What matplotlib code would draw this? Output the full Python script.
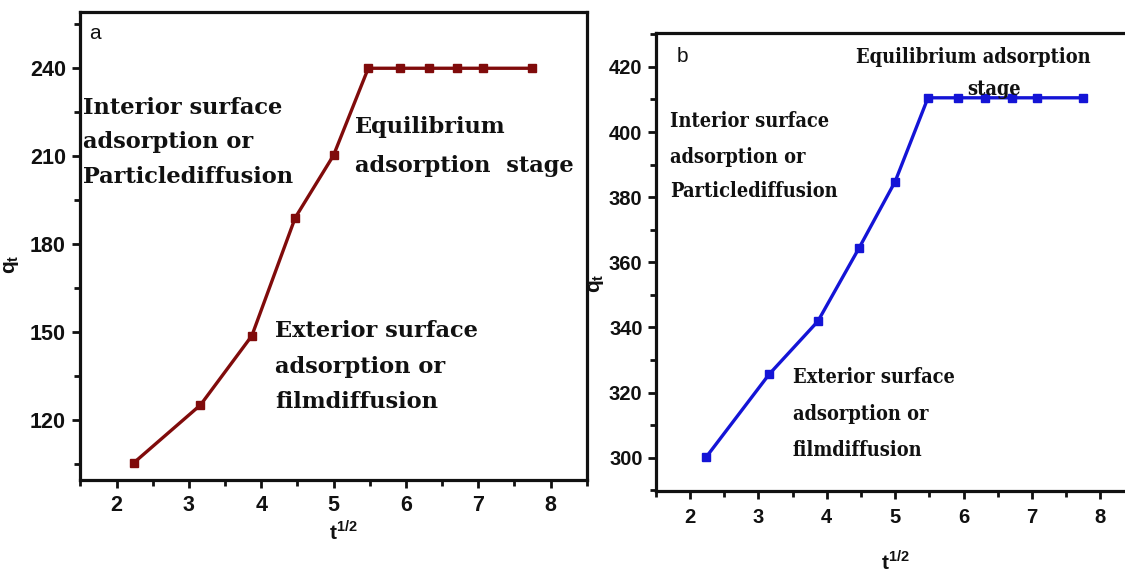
import numpy as np
import matplotlib
matplotlib.use("Agg")
import matplotlib.pyplot as plt
from matplotlib.ticker import MultipleLocator
from matplotlib import font_manager

# ---- data ----
sqrt_t = [2.24, 3.16, 3.87, 4.47, 5.00, 5.48, 5.92, 6.32, 6.71, 7.07, 7.75]
qt_a = [105.4, 125.1, 148.7, 189.0, 210.3, 240.0, 240.0, 240.0, 240.0, 240.0, 240.0]
qt_b = [300.3, 325.7, 341.9, 364.3, 384.8, 410.5, 410.5, 410.5, 410.5, 410.5, 410.5]

x_ticks = [2, 3, 4, 5, 6, 7, 8]
y_ticks_a = [120, 150, 180, 210, 240]
y_ticks_b = [300, 320, 340, 360, 380, 400, 420]

color_a = "#800b0b"
color_b = "#1414d6"
ink = "#111111"

plt.rcParams["font.family"] = ["Liberation Sans", "DejaVu Sans"]
plt.rcParams["mathtext.fontset"] = "custom"
plt.rcParams["mathtext.bf"] = "Liberation Sans:bold"
plt.rcParams["mathtext.rm"] = "Liberation Sans"

fig = plt.figure(figsize=(11.25, 5.73), dpi=100)
W, H = 1125.0, 573.0


def axes_px(left, top, right, bottom):
    return fig.add_axes([left / W, 1 - bottom / H, (right - left) / W, (bottom - top) / H])


ax_a = axes_px(80.4, 11.7, 586.7, 480.0)
ax_b = axes_px(655.8, 33.3, 1134.5, 491.0)


def style(ax, ylim, yticks, yminor, xpad, ypad, labelsize):
    ax.set_xlim(1.5, 8.5)
    ax.set_ylim(*ylim)
    ax.set_xticks(x_ticks)
    ax.set_yticks(yticks)
    ax.xaxis.set_minor_locator(MultipleLocator(0.5))
    ax.yaxis.set_minor_locator(MultipleLocator(yminor))
    for s in ax.spines.values():
        s.set_linewidth(2.3)
        s.set_color(ink)
    ax.tick_params(which="major", direction="out", length=6, width=2.0, color=ink,
                   labelsize=labelsize, labelcolor=ink)
    ax.tick_params(which="minor", direction="out", length=4, width=2.0, color=ink)
    ax.tick_params(axis="x", which="major", pad=xpad)
    ax.tick_params(axis="y", which="major", pad=ypad)
    for lab in ax.get_xticklabels() + ax.get_yticklabels():
        lab.set_fontweight("bold")


# bold serif for the annotations; the right panel uses a condensed cut when present
serif = dict(family=["DejaVu Serif"], fontweight="bold", color=ink, va="baseline", ha="left")
cond_file = font_manager.findfont(
    font_manager.FontProperties(family="DejaVu Serif", weight="bold", stretch="condensed"))
has_condensed = "Condensed" in cond_file
serif_b = dict(serif)
if has_condensed:
    serif_b["fontstretch"] = "condensed"
fs_a = 16.2
fs_b = 14.3 if has_condensed else 13.2

# ---- panel a ----
ax_a.plot(sqrt_t, qt_a, color=color_a, lw=2.4, marker="s", ms=5.5,
          mfc=color_a, mec=color_a)
style(ax_a, (99.5, 259.3), y_ticks_a, 15, 5, 4.5, 15.5)
ax_a.set_xlabel(r"$\mathbf{t}^{\mathbf{1/2}}$", fontsize=15, color=ink)
ax_a.xaxis.set_label_coords(0.519, -0.085)
ax_a.set_ylabel(r"$\mathbf{q}_{\mathbf{t}}$", fontsize=15, color=ink)
ax_a.yaxis.set_label_coords(-0.117, 0.46)

ax_a.text(0.0166, 0.954, "a", transform=ax_a.transAxes, fontsize=15,
          color=ink, va="center", ha="left")
for txt, fy in [("Interior surface", 0.7815), ("adsorption or", 0.7083),
                ("Particlediffusion", 0.6336)]:
    ax_a.text(0.006, fy, txt, transform=ax_a.transAxes, fontsize=fs_a, **serif)
for txt, fy in [("Equilibrium", 0.7403), ("adsorption  stage", 0.6584)]:
    ax_a.text(0.5426, fy, txt, transform=ax_a.transAxes, fontsize=fs_a, **serif)
for txt, fy in [("Exterior surface", 0.3047), ("adsorption or", 0.2278),
                ("filmdiffusion", 0.1531)]:
    ax_a.text(0.3853, fy, txt, transform=ax_a.transAxes, fontsize=fs_a, **serif)

# ---- panel b ----
ax_b.plot(sqrt_t, qt_b, color=color_b, lw=2.4, marker="s", ms=5.5,
          mfc=color_b, mec=color_b)
style(ax_b, (289.8, 430.3), y_ticks_b, 10, 6, 3.5, 14.5)
ax_b.spines["right"].set_visible(False)
ax_b.set_xlabel(r"$\mathbf{t}^{\mathbf{1/2}}$", fontsize=15, color=ink)
ax_b.xaxis.set_label_coords(0.50, -0.128)
ax_b.set_ylabel(r"$\mathbf{q}_{\mathbf{t}}$", fontsize=15, color=ink)
ax_b.yaxis.set_label_coords(-0.104, 0.455)

ax_b.text(0.0434, 0.9489, "b", transform=ax_b.transAxes, fontsize=15,
          color=ink, va="center", ha="left")
ax_b.text(0.4188, 0.9345, "Equilibrium adsorption", transform=ax_b.transAxes,
          fontsize=fs_b, **serif_b)
ax_b.text(0.6513, 0.8651, "stage", transform=ax_b.transAxes, fontsize=fs_b, **serif_b)
for txt, fy in [("Interior surface", 0.7959), ("adsorption or", 0.7173),
                ("Particlediffusion", 0.6417)]:
    ax_b.text(0.029, fy, txt, transform=ax_b.transAxes, fontsize=fs_b, **serif_b)
for txt, fy in [("Exterior surface", 0.2353), ("adsorption or", 0.1551),
                ("filmdiffusion", 0.0771)]:
    ax_b.text(0.286, fy, txt, transform=ax_b.transAxes, fontsize=fs_b, **serif_b)

fig.savefig("out.png", dpi=100)
